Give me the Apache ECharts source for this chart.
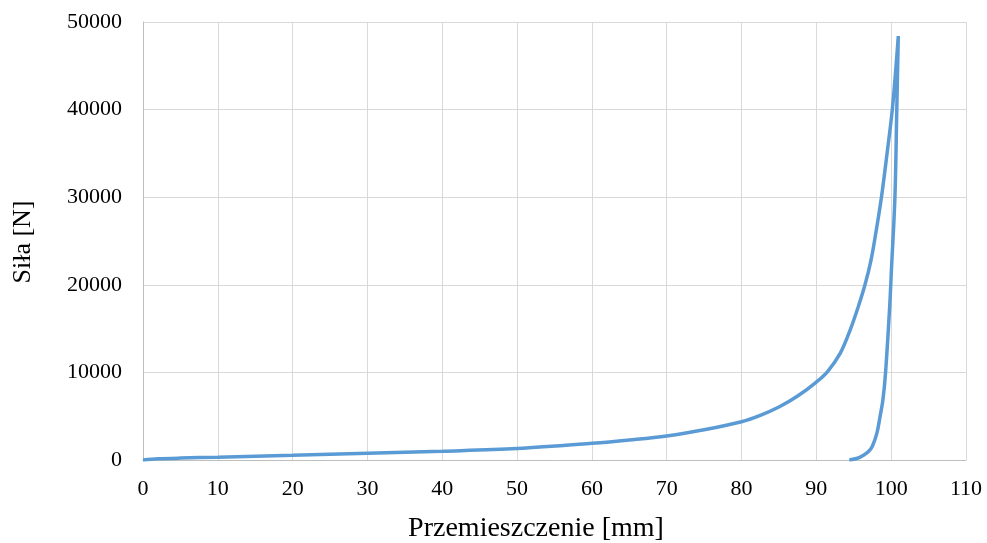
<!DOCTYPE html>
<html>
<head>
<meta charset="utf-8">
<script src="https://cdn.jsdelivr.net/npm/echarts@6/dist/echarts.min.js"></script>
<style>
  html, body { margin: 0; padding: 0; background: #fff; }
  #chart { width: 987px; height: 543px; }
</style>
</head>
<body>
<div id="chart"></div>
<script>
// Displacement [mm] and force [N]: loading branch up to the peak, then unloading
const loadX   = [0, 2, 5, 10, 20, 30, 40, 50, 60, 65, 70, 75, 80, 82.5, 85, 87.5, 90, 91.5, 93.2, 94.5, 95.6, 96.5, 97.3, 98.0, 98.7, 99.45, 100.15, 100.65, 100.95];
const loadY   = [0, 130, 220, 320, 540, 770, 1000, 1300, 1900, 2280, 2740, 3450, 4370, 5100, 6050, 7300, 8900, 10100, 12200, 14800, 17500, 20000, 22800, 26200, 30000, 35000, 40000, 45000, 48400];
const unloadX = [100.75, 100.5, 100.05, 99.8, 99.25, 98.9, 98.5, 98.1, 97.5, 97.0, 96.3, 95.5, 94.4];
const unloadY = [40000, 30000, 22000, 17500, 10000, 6900, 4900, 3100, 1600, 1000, 550, 200, 0];

const xTicks = { min: 0, max: 110, interval: 10 };
const yTicks = { min: 0, max: 50000, interval: 10000 };

const xTitle = 'Przemieszczenie [mm]';
const yTitle = 'Siła [N]';

const points = [];
loadX.forEach((x, i) => points.push([x, loadY[i]]));
unloadX.forEach((x, i) => points.push([x, unloadY[i]]));

const font = '"Liberation Serif", "Times New Roman", serif';
const chart = echarts.init(document.getElementById('chart'));
chart.setOption({
  animation: false,
  grid: { left: 143, right: 21, top: 22, bottom: 83 },
  xAxis: {
    type: 'value',
    min: xTicks.min, max: xTicks.max, interval: xTicks.interval,
    axisLine: { show: true, lineStyle: { color: '#bfbfbf', width: 1 } },
    axisTick: { show: false },
    splitLine: { show: true, lineStyle: { color: '#d9d9d9', width: 1 } },
    axisLabel: { color: '#000', fontFamily: font, fontSize: 22, margin: 18 }
  },
  yAxis: {
    type: 'value',
    min: yTicks.min, max: yTicks.max, interval: yTicks.interval,
    axisLine: { show: true, lineStyle: { color: '#bfbfbf', width: 1 } },
    axisTick: { show: false },
    splitLine: { show: true, lineStyle: { color: '#d9d9d9', width: 1 } },
    axisLabel: { color: '#000', fontFamily: font, fontSize: 22, margin: 21, formatter: v => String(v) }
  },
  graphic: [
    {
      type: 'text', x: 536, y: 529,
      style: { text: xTitle, fill: '#000', font: '28px ' + font, textAlign: 'center', textVerticalAlign: 'middle' }
    },
    {
      type: 'text', x: 23, y: 242, rotation: Math.PI / 2,
      style: { text: yTitle, fill: '#000', font: '26px ' + font, textAlign: 'center', textVerticalAlign: 'middle' }
    }
  ],
  series: [{
    type: 'line',
    data: points,
    smooth: 0.35,
    showSymbol: false,
    lineStyle: { color: '#5b9bd5', width: 3.5 }
  }]
});
</script>
</body>
</html>
